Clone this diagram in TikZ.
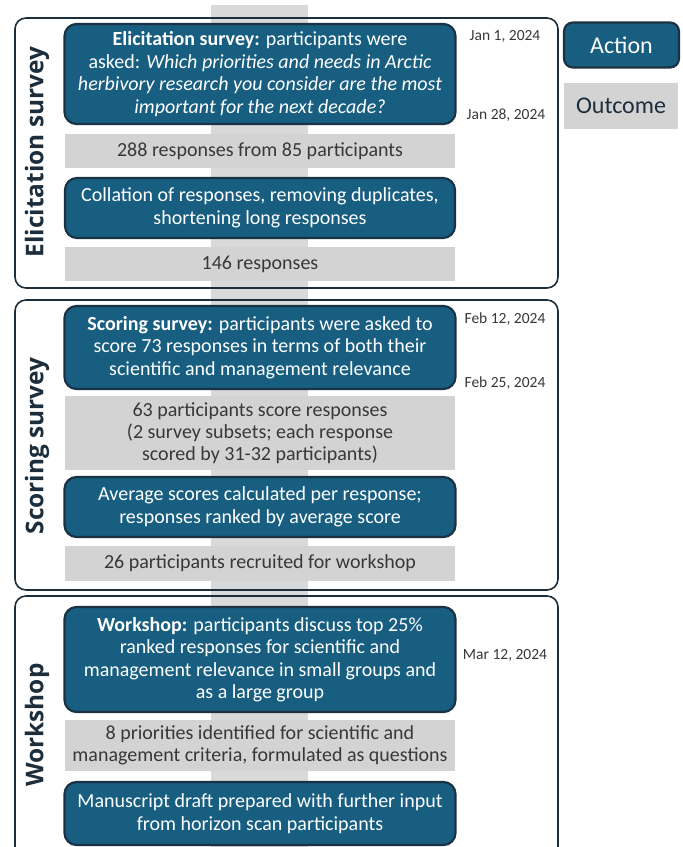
\documentclass[tikz,border=0pt]{standalone}
\usepackage{fontspec}
\setmainfont{Carlito}
\newfontfamily\sidefont{Open Sans}
\definecolor{actfill}{HTML}{175E80}
\definecolor{actborder}{HTML}{1B3244}
\definecolor{outfill}{HTML}{D3D3D3}
\definecolor{barfill}{HTML}{D9D9D9}
\definecolor{navy}{HTML}{1C2D3C}
\definecolor{outtext}{HTML}{383838}
\begin{document}
\begin{tikzpicture}[x=1pt,y=-1pt,
  action/.style={draw=actborder, line width=2.2pt, fill=actfill, rounded corners=12pt,
    text=white, align=center, inner sep=0pt, font=\fontsize{20}{22.5}\selectfont},
  outcome/.style={fill=outfill, text=outtext, align=center, inner sep=0pt,
    font=\fontsize{20}{22}\selectfont},
  frame/.style={draw=navy, line width=1.6pt, rounded corners=11pt, inner sep=0pt},
  datelbl/.style={text=outtext, font=\fontsize{15.5}{17}\selectfont, inner sep=0pt},
  sidelbl/.style={rotate=90, text=navy, font=\sidefont\bfseries\fontsize{24.4}{26}\selectfont, inner sep=0pt},
  legend/.style={inner sep=0pt, font=\fontsize{24}{26}\selectfont}]
\useasboundingbox (0,0) rectangle (683,847);
\clip (0,0) rectangle (683,847);
% background bar
\fill[barfill] (211,5) rectangle (308,860);
% frames
\node[frame, minimum width=543pt, minimum height=270pt] (f1) at (286.5,153) {};
\node[frame, minimum width=543pt, minimum height=290pt] (f2) at (286.5,445) {};
\node[frame, minimum width=543pt, minimum height=274pt] (f3) at (286.5,733) {};
% side labels
\node[sidelbl] (s1) at (37,152) {Elicitation survey};
\node[sidelbl] (s2) at (37,446) {Scoring survey};
\node[sidelbl] (s3) at (37,725) {Workshop};
% elicitation
\node[action, minimum width=391pt, minimum height=100pt] (a1) at (260,74)
  {\textbf{Elicitation survey:} participants were\\
   asked: \textit{Which priorities and needs in Arctic}\\
   \textit{herbivory research you consider are the most}\\
   \textit{important for the next decade?}};
\node[outcome, minimum width=390pt, minimum height=34pt] (o1) at (260,151)
  {288 responses from 85 participants};
\node[action, minimum width=390pt, minimum height=60pt] (a2) at (260,208)
  {Collation of responses, removing duplicates,\\ shortening long responses};
\node[outcome, minimum width=390pt, minimum height=34pt] (o2) at (260,264)
  {146 responses};
% scoring
\node[action, minimum width=391pt, minimum height=83pt] (a3) at (260,347.5)
  {\textbf{Scoring survey:} participants were asked to\\
   score 73 responses in terms of both their\\
   scientific and management relevance};
\node[outcome, minimum width=390pt, minimum height=74pt] (o3) at (260,433)
  {63 participants score responses\\ (2 survey subsets; each response\\ scored by 31-32 participants)};
\node[action, minimum width=391pt, minimum height=60pt] (a4) at (260,507)
  {Average scores calculated per response;\\ responses ranked by average score};
\node[outcome, minimum width=390pt, minimum height=35pt] (o4) at (260,563.5)
  {26 participants recruited for workshop};
% workshop
\node[action, minimum width=391pt, minimum height=105pt] (a5) at (260,659.5)
  {\textbf{Workshop:} participants discuss top 25\%\\
   ranked responses for scientific and\\
   management relevance in small groups and\\
   as a large group};
\node[outcome, minimum width=390pt, minimum height=51pt] (o5) at (260,745.5)
  {8 priorities identified for scientific and\\ management criteria, formulated as questions};
\node[action, minimum width=391pt, minimum height=63pt] (a6) at (260,813.5)
  {Manuscript draft prepared with further input\\ from horizon scan participants};
% dates
\node[datelbl] (d1) at (505,36) {Jan 1, 2024};
\node[datelbl] (d2) at (506,115) {Jan 28, 2024};
\node[datelbl] (d3) at (505,319) {Feb 12, 2024};
\node[datelbl] (d4) at (505,383) {Feb 25, 2024};
\node[datelbl] (d5) at (505,655) {Mar 12, 2024};
% legend
\node[legend, draw=actborder, line width=2.2pt, fill=actfill, rounded corners=9pt, text=white,
  minimum width=115pt, minimum height=45pt] (la) at (621.5,45) {Action};
\node[legend, fill=outfill, text=navy, minimum width=114pt, minimum height=46pt] (lo) at (621,106) {Outcome};
\end{tikzpicture}
\end{document}
